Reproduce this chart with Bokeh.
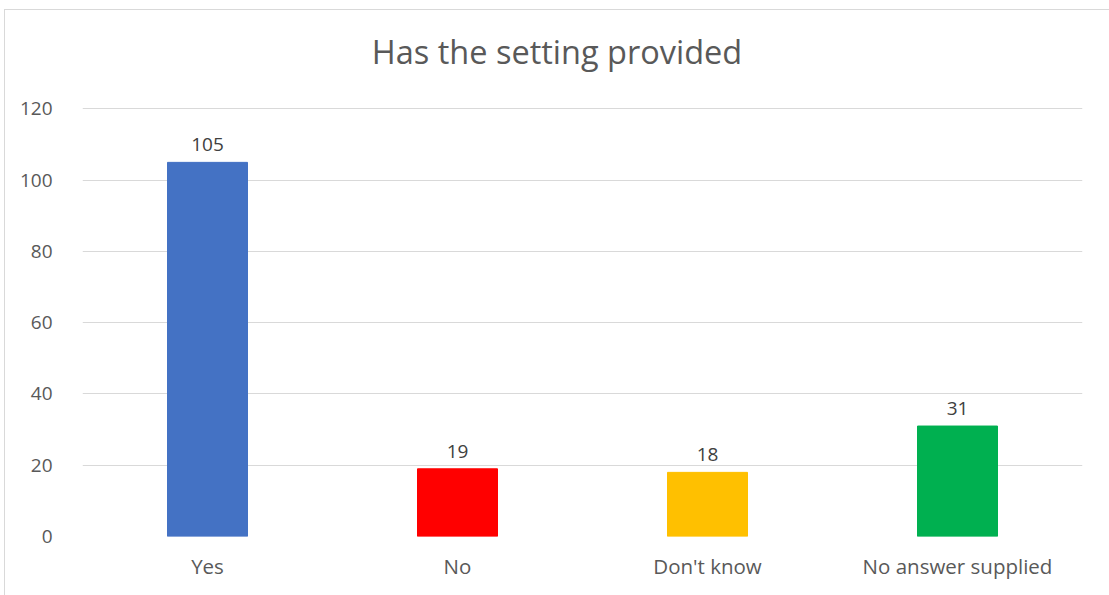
from bokeh.plotting import figure
from bokeh.models import ColumnDataSource, LabelSet, FixedTicker, Range1d, Div
from bokeh.layouts import column
from bokeh.core.properties import value
from bokeh.embed import file_html
from bokeh.resources import INLINE

categories = ["Yes", "No", "Don't know", "No answer supplied"]
values = [105, 19, 18, 31]
colors = ["#4472C4", "#FF0000", "#FFC000", "#00B050"]
y_ticks = [0, 20, 40, 60, 80, 100, 120]
title_text = "Has the setting provided"

FONT = "Open Sans"

src = ColumnDataSource(dict(cat=categories, val=values, color=colors,
                            lab=[str(v) for v in values]))

title = Div(text=title_text, width=1104, height=84,
            styles={"text-align": "center", "font-size": "32.5px",
                    "line-height": "84px", "font-family": FONT,
                    "color": "#595959", "width": "1104px",
                    "background": "white"})
title.margin = (0, 0, 0, 0)

p = figure(x_range=categories, y_range=Range1d(0, 120.4),
           width=1104, height=501, output_backend="svg", toolbar_location=None,
           min_border_left=77, min_border_right=27, min_border_top=13,
           min_border_bottom=59)
p.margin = (0, 0, 0, 0)
p.outline_line_color = None
p.background_fill_color = "white"
p.border_fill_color = "white"

p.vbar(x="cat", top="val", width=0.32, color="color", source=src)

p.add_layout(LabelSet(x="cat", y="val", text="lab", source=src, y_offset=11,
                      text_align="center", text_baseline="bottom",
                      text_font=value(FONT), text_font_size=value("19px"),
                      text_color="#404040"))

p.xgrid.grid_line_color = None
p.ygrid.grid_line_color = "#d9d9d9"
p.ygrid.grid_line_width = 1.2
p.yaxis.ticker = FixedTicker(ticks=y_ticks)
for ax in (p.xaxis[0], p.yaxis[0]):
    ax.axis_line_color = None
    ax.major_tick_line_color = None
    ax.minor_tick_line_color = None
    ax.major_label_text_font = FONT
    ax.major_label_text_color = "#595959"
p.xaxis.major_label_text_font_size = "20.5px"
p.yaxis.major_label_text_font_size = "19px"
p.xaxis.major_label_standoff = 9
p.yaxis.major_label_standoff = 24

layout = column(title, p, spacing=0)
layout.margin = (9, 0, 0, 4)
layout.styles = {"border-left": "1px solid #d9d9d9",
                 "border-top": "1px solid #d9d9d9"}

open("out.html", "w").write(file_html(layout, INLINE))
